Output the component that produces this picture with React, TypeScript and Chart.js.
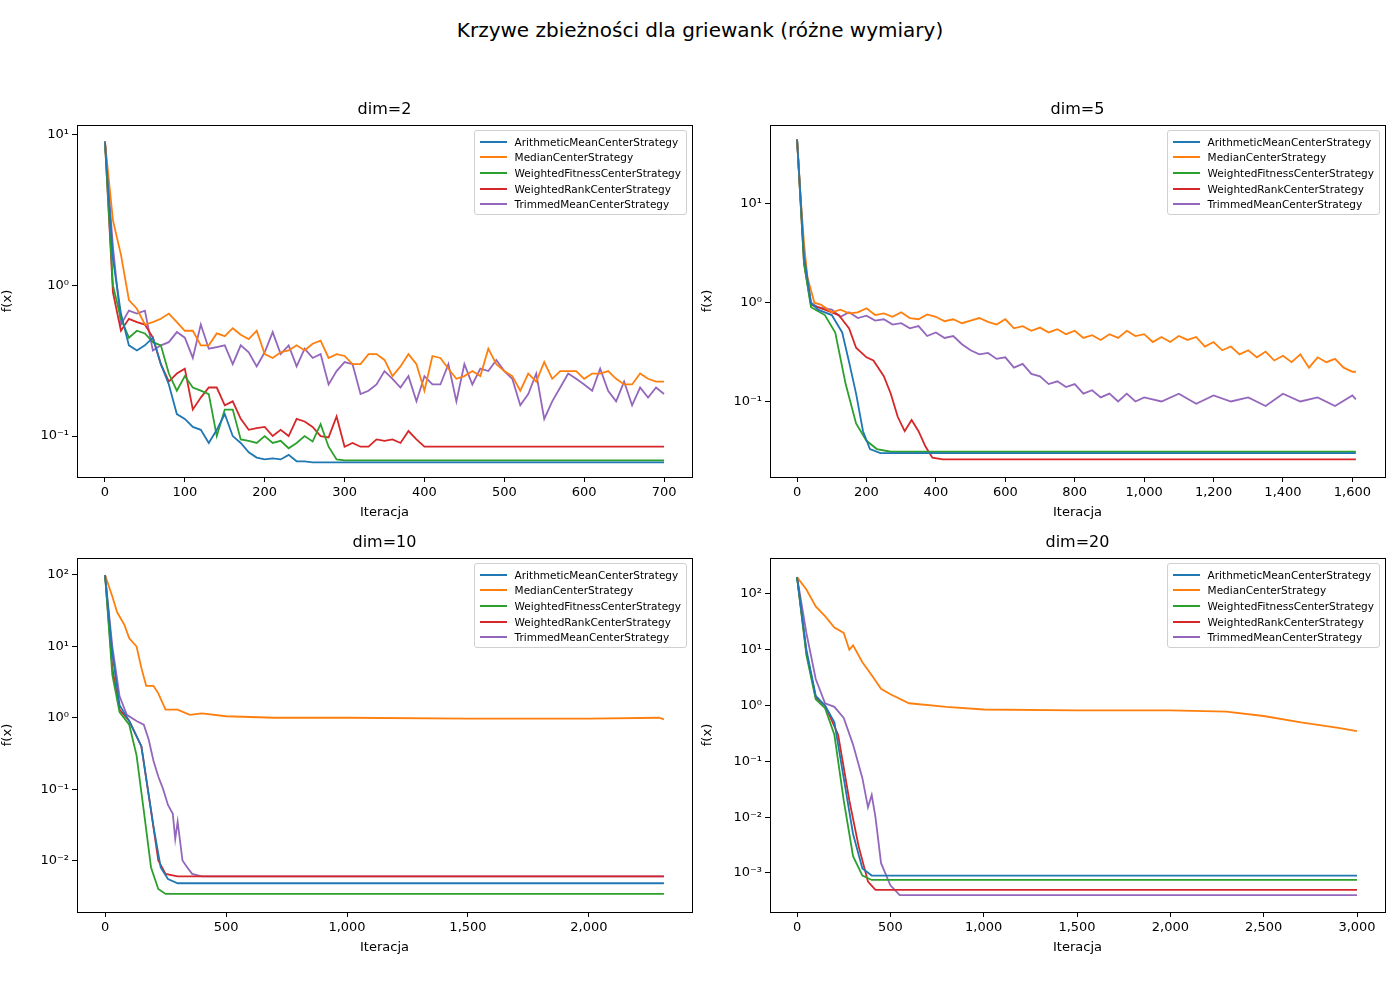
import React, { useEffect, useRef } from "react";
import { Chart, registerables } from "chart.js";
Chart.register(...registerables);

const seriesNames = ["ArithmeticMeanCenterStrategy","MedianCenterStrategy","WeightedFitnessCenterStrategy","WeightedRankCenterStrategy","TrimmedMeanCenterStrategy"];
const colors = ["#1f77b4","#ff7f0e","#2ca02c","#d62728","#9467bd"];

// dim=2
const d2Arith = [[0,9],[10,1.5],[20,0.65],[30,0.4],[40,0.37],[50,0.4],[60,0.45],[70,0.3],[80,0.22],[90,0.14],[100,0.13],[110,0.115],[120,0.11],[130,0.09],[140,0.11],[150,0.14],[160,0.1],[170,0.09],[180,0.078],[190,0.072],[200,0.07],[210,0.071],[220,0.07],[230,0.075],[240,0.068],[250,0.068],[260,0.067],[700,0.067]];
const d2Median = [[0,9],[10,2.7],[20,1.6],[30,0.8],[40,0.7],[50,0.55],[60,0.57],[70,0.6],[80,0.65],[90,0.57],[100,0.5],[110,0.5],[120,0.4],[130,0.4],[140,0.48],[150,0.46],[160,0.52],[170,0.47],[180,0.44],[190,0.5],[200,0.35],[210,0.33],[220,0.36],[230,0.37],[240,0.4],[250,0.37],[260,0.41],[270,0.43],[280,0.33],[290,0.35],[300,0.34],[310,0.3],[320,0.3],[330,0.35],[340,0.35],[350,0.32],[360,0.25],[370,0.29],[380,0.35],[390,0.3],[400,0.2],[410,0.34],[420,0.33],[430,0.28],[440,0.24],[450,0.25],[460,0.27],[470,0.25],[480,0.38],[490,0.3],[500,0.27],[510,0.25],[520,0.2],[530,0.26],[540,0.23],[550,0.31],[560,0.24],[570,0.27],[580,0.27],[590,0.27],[600,0.24],[610,0.26],[620,0.26],[630,0.27],[640,0.24],[650,0.22],[660,0.22],[670,0.26],[680,0.24],[690,0.23],[700,0.23]];
const d2Fitness = [[0,9],[10,1.0],[20,0.6],[30,0.45],[40,0.5],[50,0.48],[60,0.42],[70,0.4],[80,0.26],[90,0.2],[100,0.25],[110,0.21],[120,0.2],[130,0.19],[140,0.1],[150,0.15],[160,0.15],[170,0.095],[180,0.093],[190,0.09],[200,0.1],[210,0.09],[220,0.093],[230,0.083],[240,0.09],[250,0.1],[260,0.092],[270,0.12],[280,0.085],[290,0.07],[300,0.069],[700,0.069]];
const d2Rank = [[0,9],[10,0.9],[20,0.5],[30,0.6],[40,0.57],[50,0.55],[60,0.45],[70,0.3],[80,0.23],[90,0.26],[100,0.28],[110,0.15],[120,0.18],[130,0.21],[140,0.21],[150,0.16],[160,0.17],[170,0.13],[180,0.11],[190,0.113],[200,0.115],[210,0.1],[220,0.11],[230,0.1],[240,0.13],[250,0.125],[260,0.115],[270,0.1],[280,0.098],[290,0.135],[300,0.085],[310,0.09],[320,0.085],[330,0.085],[340,0.095],[350,0.093],[360,0.095],[370,0.09],[380,0.108],[390,0.095],[400,0.085],[700,0.085]];
const d2Trimmed = [[0,9],[10,1.8],[20,0.55],[30,0.68],[40,0.65],[50,0.68],[60,0.37],[70,0.4],[80,0.42],[90,0.49],[100,0.45],[110,0.33],[120,0.55],[130,0.38],[140,0.39],[150,0.4],[160,0.3],[170,0.4],[180,0.36],[190,0.29],[200,0.36],[210,0.49],[220,0.35],[230,0.4],[240,0.29],[250,0.38],[260,0.33],[270,0.35],[280,0.22],[290,0.27],[300,0.31],[310,0.3],[320,0.19],[330,0.2],[340,0.22],[350,0.27],[360,0.24],[370,0.21],[380,0.25],[390,0.17],[400,0.25],[410,0.22],[420,0.22],[430,0.3],[440,0.17],[450,0.3],[460,0.22],[470,0.28],[480,0.27],[490,0.32],[500,0.27],[510,0.24],[520,0.16],[530,0.19],[540,0.26],[550,0.13],[560,0.17],[570,0.21],[580,0.26],[590,0.24],[600,0.22],[610,0.2],[620,0.28],[630,0.2],[640,0.17],[650,0.23],[660,0.16],[670,0.21],[680,0.18],[690,0.21],[700,0.19]];

// dim=5
const d5Arith = [[0,45],[20,3],[40,1.0],[60,0.85],[100,0.75],[130,0.5],[150,0.25],[170,0.12],[190,0.05],[210,0.033],[240,0.03],[1610,0.03]];
const d5Median = [[0,45],[10,12],[20,4],[30,1.8],[50,1.0],[70,0.95],[100,0.8],[125,0.85],[150,0.78],[175,0.8],[200,0.88],[225,0.75],[250,0.78],[275,0.72],[300,0.8],[325,0.7],[350,0.68],[375,0.76],[400,0.72],[425,0.65],[450,0.68],[475,0.62],[500,0.66],[525,0.7],[550,0.64],[575,0.6],[600,0.68],[625,0.55],[650,0.58],[675,0.52],[700,0.56],[725,0.5],[750,0.54],[775,0.48],[800,0.52],[825,0.44],[850,0.47],[875,0.42],[900,0.48],[925,0.44],[950,0.52],[975,0.46],[1000,0.48],[1025,0.4],[1050,0.45],[1075,0.4],[1100,0.46],[1125,0.42],[1150,0.45],[1175,0.36],[1200,0.4],[1225,0.33],[1250,0.36],[1275,0.3],[1300,0.33],[1325,0.28],[1350,0.32],[1375,0.26],[1400,0.29],[1425,0.25],[1450,0.3],[1475,0.22],[1500,0.28],[1525,0.25],[1550,0.27],[1575,0.22],[1600,0.2],[1610,0.2]];
const d5Fitness = [[0,45],[20,2.5],[40,0.9],[80,0.75],[110,0.5],[140,0.15],[170,0.06],[200,0.04],[230,0.033],[270,0.031],[1610,0.031]];
const d5Rank = [[0,45],[20,2.5],[40,0.95],[80,0.85],[120,0.75],[150,0.55],[170,0.35],[200,0.28],[220,0.26],[250,0.18],[270,0.12],[290,0.07],[310,0.05],[330,0.065],[350,0.05],[370,0.035],[390,0.027],[420,0.026],[1610,0.026]];
const d5Trimmed = [[0,45],[20,3],[40,1.0],[60,0.9],[100,0.85],[125,0.72],[150,0.8],[175,0.7],[200,0.74],[225,0.66],[250,0.68],[275,0.6],[300,0.62],[325,0.55],[350,0.58],[375,0.46],[400,0.5],[425,0.44],[450,0.46],[475,0.38],[500,0.33],[525,0.3],[550,0.31],[575,0.27],[600,0.28],[625,0.22],[650,0.24],[675,0.19],[700,0.18],[725,0.15],[750,0.16],[775,0.14],[800,0.15],[825,0.12],[850,0.13],[875,0.11],[900,0.12],[925,0.1],[950,0.12],[975,0.1],[1000,0.11],[1050,0.1],[1100,0.12],[1150,0.095],[1200,0.115],[1250,0.1],[1300,0.11],[1350,0.09],[1400,0.12],[1450,0.1],[1500,0.11],[1550,0.09],[1600,0.115],[1610,0.105]];

// dim=10
const d10Arith = [[0,100],[30,8],[60,1.5],[100,0.9],[150,0.4],[200,0.03],[230,0.008],[260,0.0055],[300,0.0048],[2310,0.0048]];
const d10Median = [[0,100],[30,50],[50,30],[80,20],[100,13],[130,10],[150,5],[170,2.8],[200,2.8],[220,2.2],[250,1.3],[300,1.3],[350,1.1],[400,1.15],[500,1.05],[700,1.0],[1000,1.0],[1500,0.97],[2000,0.97],[2290,1.0],[2310,0.95]];
const d10Fitness = [[0,100],[30,4],[60,1.2],[100,0.8],[130,0.3],[160,0.05],[190,0.008],[220,0.004],[250,0.0034],[2310,0.0034]];
const d10Rank = [[0,100],[30,5],[60,1.3],[100,0.9],[150,0.4],[190,0.05],[220,0.01],[250,0.0065],[300,0.006],[2310,0.006]];
const d10Trimmed = [[0,100],[30,10],[60,2],[90,1.1],[130,0.9],[160,0.8],[180,0.5],[200,0.25],[220,0.15],[240,0.1],[260,0.06],[280,0.045],[290,0.02],[300,0.035],[320,0.01],[340,0.008],[360,0.0065],[400,0.006],[2310,0.006]];

// dim=20
const d20Arith = [[0,200],[50,10],[100,1.5],[150,1.0],[200,0.5],[250,0.05],[300,0.005],[350,0.0012],[400,0.0009],[3000,0.0009]];
const d20Median = [[0,200],[50,120],[100,60],[150,40],[200,25],[250,20],[280,10],[300,12],[350,6],[400,3.5],[450,2],[500,1.6],[600,1.1],[800,0.95],[1000,0.85],[1500,0.82],[2000,0.82],[2300,0.78],[2500,0.65],[2700,0.5],[2900,0.4],[3000,0.35]];
const d20Fitness = [[0,200],[50,8],[100,1.3],[150,0.9],[200,0.3],[250,0.02],[300,0.002],[350,0.0009],[400,0.00075],[3000,0.00075]];
const d20Rank = [[0,200],[50,9],[100,1.4],[150,1.0],[220,0.3],[280,0.02],[330,0.003],[380,0.0007],[420,0.0005],[3000,0.0005]];
const d20Trimmed = [[0,200],[50,20],[100,3],[150,1.1],[200,0.95],[250,0.6],[300,0.2],[350,0.05],[380,0.015],[400,0.025],[420,0.01],[450,0.0015],[500,0.0006],[550,0.0004],[3000,0.0004]];

const xTicks2 = [0,100,200,300,400,500,600,700];
const xTicks5 = [0,200,400,600,800,1000,1200,1400,1600];
const xTicks10 = [0,500,1000,1500,2000];
const xTicks20 = [0,500,1000,1500,2000,2500,3000];

const panels = [
  { title: "dim=2", series: [d2Arith,d2Median,d2Fitness,d2Rank,d2Trimmed], xTicks: xTicks2, xMin: -35, xMax: 735, yMin: 0.0535, yMax: 11.6, yPows: [-1,0,1], left: 0, top: 100, h: 420, pad: { left: 0, right: 8, top: 25, bottom: 0 }, yW: 77, plotL: 77, plotR: 692, plotT: 125 },
  { title: "dim=5", series: [d5Arith,d5Median,d5Fitness,d5Rank,d5Trimmed], xTicks: xTicks5, xMin: -78, xMax: 1694, yMin: 0.0172, yMax: 63, yPows: [-1,0,1], left: 700, top: 100, h: 420, pad: { left: 0, right: 15, top: 25, bottom: 0 }, yW: 70, plotL: 770, plotR: 1385, plotT: 125 },
  { title: "dim=10", series: [d10Arith,d10Median,d10Fitness,d10Rank,d10Trimmed], xTicks: xTicks10, xMin: -116, xMax: 2426, yMin: 0.0019, yMax: 173, yPows: [-2,-1,0,1,2], left: 0, top: 530, h: 460, pad: { left: 0, right: 8, top: 28, bottom: 35 }, yW: 77, plotL: 77, plotR: 692, plotT: 558 },
  { title: "dim=20", series: [d20Arith,d20Median,d20Fitness,d20Rank,d20Trimmed], xTicks: xTicks20, xMin: -145, xMax: 3150, yMin: 0.0002, yMax: 441, yPows: [-3,-2,-1,0,1,2], left: 700, top: 530, h: 460, pad: { left: 0, right: 15, top: 28, bottom: 35 }, yW: 70, plotL: 770, plotR: 1385, plotT: 558 },
];

const sup: Record<string, string> = { "-": "⁻", "0": "⁰", "1": "¹", "2": "²", "3": "³" };
const pow = (p: number) => "10" + String(p).split("").map(c => sup[c]).join("");
const FONT = "DejaVu Sans";

const boxPlugin = {
  id: "box",
  afterDraw(chart: any) {
    const { ctx, chartArea: a } = chart;
    ctx.save(); ctx.strokeStyle = "#000"; ctx.lineWidth = 1;
    ctx.strokeRect(Math.round(a.left) + 0.5, Math.round(a.top) + 0.5, Math.round(a.right - a.left), Math.round(a.bottom - a.top));
    ctx.restore();
  },
};

function Panel({ p }: { p: any }) {
  const ref = useRef<HTMLCanvasElement>(null);
  useEffect(() => {
    const chart = new Chart(ref.current!, {
      type: "line",
      data: {
        datasets: p.series.map((s: number[][], i: number) => ({
          label: seriesNames[i],
          data: s.map(([x, y]) => ({ x, y })),
          borderColor: colors[i], borderWidth: 1.8, pointRadius: 0, tension: 0, fill: false,
        })),
      },
      options: {
        animation: false, responsive: false, devicePixelRatio: 1,
        layout: { padding: p.pad },
        plugins: { legend: { display: false }, title: { display: false }, tooltip: { enabled: false } },
        scales: {
          x: {
            type: "linear", min: p.xMin, max: p.xMax,
            afterBuildTicks: (s: any) => { s.ticks = p.xTicks.map((v: number) => ({ value: v })); },
            afterFit: (s: any) => { s.height = 43; },
            grid: { drawOnChartArea: false, tickLength: 5, color: "#000" },
            border: { display: false },
            ticks: { color: "#000", font: { family: FONT, size: 13 }, maxRotation: 0, padding: 3 },
            title: { display: true, text: "Iteracja", color: "#000", font: { family: FONT, size: 13 }, padding: { top: 2, bottom: 0 } },
          },
          y: {
            type: "logarithmic", min: p.yMin, max: p.yMax,
            afterBuildTicks: (s: any) => { s.ticks = p.yPows.map((e: number) => ({ value: Math.pow(10, e) })); },
            afterFit: (s: any) => { s.width = p.yW; },
            grid: { drawOnChartArea: false, tickLength: 5, color: "#000" },
            border: { display: false },
            ticks: { color: "#000", font: { family: FONT, size: 13 }, padding: 3, callback: (v: any) => pow(Math.round(Math.log10(v))) },
            title: { display: true, text: "f(x)", color: "#000", font: { family: FONT, size: 13 }, padding: 0 },
          },
        },
      },
      plugins: [boxPlugin],
    } as any);
    return () => chart.destroy();
  }, []);
  const cx = (p.plotL + p.plotR) / 2;
  return (
    <>
      <canvas ref={ref} width={700} height={p.h} style={{ position: "absolute", left: p.left, top: p.top, width: 700, height: p.h }} />
      <div style={{ position: "absolute", left: cx - 100, width: 200, top: p.plotT - 26, textAlign: "center", fontFamily: FONT, fontSize: 16, color: "#000" }}>{p.title}</div>
      <div style={{ position: "absolute", right: 1400 - p.plotR + 5, top: p.plotT + 5, background: "rgba(255,255,255,0.8)", border: "1px solid #d0d0d0", borderRadius: 3, padding: "3px 5px 2px 5px", fontFamily: FONT, fontSize: 10.5, color: "#000" }}>
        {seriesNames.map((n, i) => (
          <div key={n} style={{ display: "flex", alignItems: "center", height: 15.6 }}>
            <span style={{ display: "inline-block", width: 27, height: 2, background: colors[i], marginRight: 8 }} />
            <span>{n}</span>
          </div>
        ))}
      </div>
    </>
  );
}

export default function App() {
  return (
    <div style={{ position: "absolute", left: 0, top: 0, width: 1400, height: 1000, background: "#fff" }}>
      <div style={{ position: "absolute", left: 0, width: 1400, top: 18, textAlign: "center", fontFamily: FONT, fontSize: 20, color: "#000" }}>Krzywe zbieżności dla griewank (różne wymiary)</div>
      {panels.map(p => <Panel key={p.title} p={p} />)}
    </div>
  );
}
